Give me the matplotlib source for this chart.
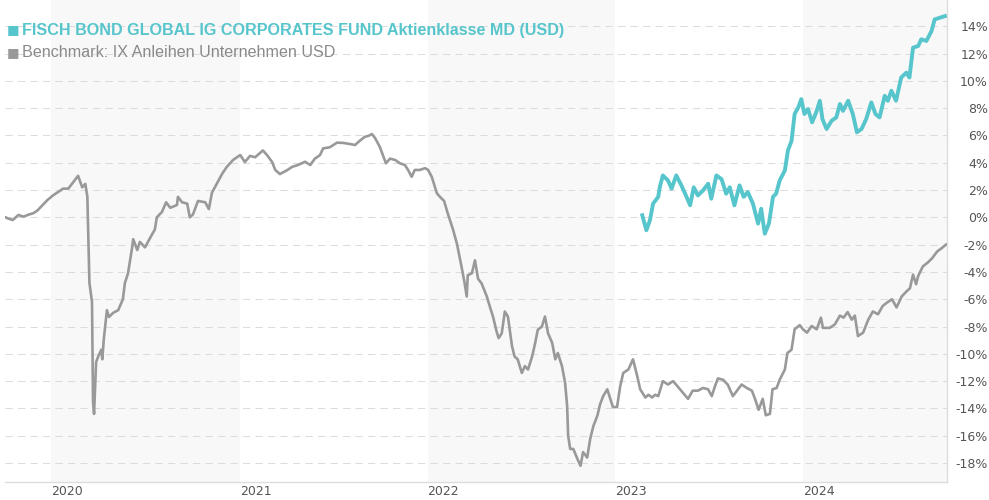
import matplotlib
matplotlib.use('Agg')
import matplotlib.pyplot as plt
import pandas as pd

# benchmark: IX Anleihen Unternehmen USD (cumulative %)
bench_dates = [
    '2019-10-04', '2019-10-08', '2019-10-18', '2019-10-29', '2019-11-08', '2019-11-18', '2019-11-27',
    '2019-12-05', '2019-12-15', '2019-12-24', '2020-01-04', '2020-01-14', '2020-01-24', '2020-02-03',
    '2020-02-12', '2020-02-22', '2020-03-01', '2020-03-07', '2020-03-11', '2020-03-13', '2020-03-15',
    '2020-03-20', '2020-03-22', '2020-03-24', '2020-03-28', '2020-04-01', '2020-04-07', '2020-04-09',
    '2020-04-12', '2020-04-18', '2020-04-22', '2020-04-30', '2020-05-10', '2020-05-19', '2020-05-23',
    '2020-05-29', '2020-06-06', '2020-06-08', '2020-06-16', '2020-06-21', '2020-07-01', '2020-07-11',
    '2020-07-20', '2020-07-24', '2020-08-03', '2020-08-11', '2020-08-19', '2020-09-01', '2020-09-03',
    '2020-09-11', '2020-09-21', '2020-09-26', '2020-10-02', '2020-10-12', '2020-10-26', '2020-11-02',
    '2020-11-08', '2020-11-18', '2020-11-28', '2020-12-07', '2020-12-19', '2021-01-02', '2021-01-11',
    '2021-01-21', '2021-01-31', '2021-02-15', '2021-02-23', '2021-03-05', '2021-03-11', '2021-03-20',
    '2021-04-03', '2021-04-13', '2021-04-24', '2021-05-08', '2021-05-18', '2021-05-27', '2021-06-06',
    '2021-06-12', '2021-06-25', '2021-07-09', '2021-07-21', '2021-08-03', '2021-08-13', '2021-08-22',
    '2021-09-01', '2021-09-07', '2021-09-15', '2021-09-21', '2021-09-30', '2021-10-06', '2021-10-12',
    '2021-10-20', '2021-10-30', '2021-11-08', '2021-11-18', '2021-11-24', '2021-12-01', '2021-12-07',
    '2021-12-17', '2021-12-27', '2022-01-02', '2022-01-09', '2022-01-19', '2022-01-25', '2022-02-02',
    '2022-02-09', '2022-02-19', '2022-02-27', '2022-03-08', '2022-03-14', '2022-03-18', '2022-03-20',
    '2022-03-28', '2022-04-03', '2022-04-09', '2022-04-16', '2022-04-26', '2022-05-02', '2022-05-08',
    '2022-05-15', '2022-05-19', '2022-05-25', '2022-05-31', '2022-06-06', '2022-06-14', '2022-06-19',
    '2022-06-25', '2022-07-03', '2022-07-09', '2022-07-15', '2022-07-23', '2022-07-29', '2022-08-03',
    '2022-08-11', '2022-08-17', '2022-08-23', '2022-08-31', '2022-09-06', '2022-09-11', '2022-09-19',
    '2022-09-25', '2022-09-29', '2022-10-01', '2022-10-05', '2022-10-11', '2022-10-19', '2022-10-25',
    '2022-10-30', '2022-11-07', '2022-11-13', '2022-11-19', '2022-11-27', '2022-12-02', '2022-12-08',
    '2022-12-16', '2022-12-22', '2022-12-27', '2023-01-04', '2023-01-10', '2023-01-16', '2023-01-26',
    '2023-02-04', '2023-02-12', '2023-02-18', '2023-02-28', '2023-03-06', '2023-03-13', '2023-03-19',
    '2023-03-25', '2023-04-03', '2023-04-13', '2023-04-23', '2023-05-02', '2023-05-12', '2023-05-22',
    '2023-05-31', '2023-06-10', '2023-06-20', '2023-06-30', '2023-07-07', '2023-07-13', '2023-07-19',
    '2023-07-29', '2023-08-07', '2023-08-17', '2023-08-27', '2023-09-03', '2023-09-13', '2023-09-23',
    '2023-09-29', '2023-10-06', '2023-10-14', '2023-10-20', '2023-10-28', '2023-11-02', '2023-11-10',
    '2023-11-16', '2023-11-26', '2023-12-01', '2023-12-09', '2023-12-15', '2023-12-25', '2023-12-31',
    '2024-01-08', '2024-01-17', '2024-01-27', '2024-02-04', '2024-02-08', '2024-02-21', '2024-03-02',
    '2024-03-12', '2024-03-19', '2024-03-27', '2024-04-04', '2024-04-10', '2024-04-16', '2024-04-26',
    '2024-05-06', '2024-05-15', '2024-05-25', '2024-06-03', '2024-06-11', '2024-06-21', '2024-06-30',
    '2024-07-10', '2024-07-20', '2024-07-26', '2024-08-01', '2024-08-07', '2024-08-11', '2024-08-20',
    '2024-08-30', '2024-09-07', '2024-09-17', '2024-09-26', '2024-10-04',
]
bench_values = [
    0.0, -0.07, -0.2, 0.17, 0.05, 0.2, 0.3,
    0.5, 0.9, 1.25, 1.6, 1.85, 2.1, 2.1,
    2.55, 3.04, 2.2, 2.45, 1.5, -1.5, -4.8,
    -6.2, -13.5, -14.4, -10.6, -10.2, -9.7, -10.4,
    -8.9, -6.8, -7.3, -7.0, -6.8, -6.0, -4.8,
    -4.1, -2.2, -1.6, -2.4, -1.8, -2.2, -1.5,
    -0.9, 0.0, 0.4, 1.1, 0.7, 0.9, 1.5,
    1.1, 1.0, 0.0, 0.2, 1.2, 1.1, 0.6,
    1.8, 2.5, 3.2, 3.7, 4.2, 4.56, 4.05,
    4.5, 4.4, 4.9, 4.56, 4.05, 3.47, 3.17,
    3.45, 3.7, 3.83, 4.07, 3.83, 4.3, 4.56,
    5.05, 5.13, 5.47, 5.45, 5.37, 5.3, 5.6,
    5.9, 5.95, 6.1, 5.8, 5.17, 4.56, 3.96,
    4.3, 4.2, 3.96, 3.83, 3.47, 2.97, 3.47,
    3.47, 3.6, 3.47, 2.97, 1.76, 1.5, 1.2,
    0.3, -0.85, -1.94, -3.64, -4.85, -5.8, -4.24,
    -4.1, -3.15, -4.5, -4.85, -5.8, -6.55, -7.27,
    -8.36, -8.85, -8.5, -6.9, -7.27, -9.45, -10.2,
    -10.4, -11.4, -10.9, -11.15, -10.2, -9.2, -8.24,
    -8.0, -7.27, -8.5, -9.2, -10.4, -9.94, -10.9,
    -12.1, -13.8, -16.0, -16.97, -16.97, -17.7, -18.2,
    -17.2, -17.6, -16.2, -15.3, -14.5, -13.7, -13.1,
    -12.6, -13.3, -13.9, -13.9, -12.4, -11.4, -11.15,
    -10.4, -11.6, -12.6, -13.2, -13.0, -13.2, -13.0,
    -13.1, -12.0, -12.25, -12.0, -12.4, -12.85, -13.3,
    -12.7, -12.7, -12.5, -12.6, -13.1, -12.4, -11.8,
    -11.9, -12.25, -13.1, -12.6, -12.25, -12.5, -12.7,
    -13.3, -14.1, -13.3, -14.5, -14.4, -12.6, -12.5,
    -11.9, -11.15, -9.94, -9.7, -8.2, -7.9, -8.2,
    -8.45, -7.96, -8.2, -7.35, -8.1, -8.1, -7.85,
    -7.2, -7.35, -6.94, -7.5, -7.2, -8.7, -8.45,
    -7.5, -6.9, -7.1, -6.5, -6.26, -6.0, -6.6,
    -5.8, -5.4, -5.2, -4.2, -4.9, -4.3, -3.6,
    -3.3, -3.0, -2.5, -2.25, -2.0,
]

# fund: FISCH BOND GLOBAL IG CORPORATES FUND Aktienklasse MD (USD)
fund_dates = [
    '2023-02-22', '2023-03-02', '2023-03-09', '2023-03-15', '2023-03-25', '2023-03-28', '2023-04-03',
    '2023-04-13', '2023-04-20', '2023-04-29', '2023-05-09', '2023-05-19', '2023-05-26', '2023-06-02',
    '2023-06-10', '2023-06-20', '2023-06-30', '2023-07-06', '2023-07-16', '2023-07-26', '2023-08-04',
    '2023-08-11', '2023-08-20', '2023-08-30', '2023-09-07', '2023-09-15', '2023-09-25', '2023-10-05',
    '2023-10-11', '2023-10-18', '2023-10-26', '2023-11-03', '2023-11-09', '2023-11-16', '2023-11-26',
    '2023-12-02', '2023-12-09', '2023-12-15', '2023-12-22', '2023-12-28', '2024-01-03', '2024-01-10',
    '2024-01-18', '2024-01-26', '2024-02-02', '2024-02-07', '2024-02-15', '2024-02-25', '2024-03-05',
    '2024-03-12', '2024-03-18', '2024-03-28', '2024-04-06', '2024-04-14', '2024-04-23', '2024-05-02',
    '2024-05-12', '2024-05-20', '2024-05-28', '2024-06-07', '2024-06-13', '2024-06-20', '2024-06-29',
    '2024-07-09', '2024-07-19', '2024-07-25', '2024-08-01', '2024-08-11', '2024-08-17', '2024-08-27',
    '2024-09-06', '2024-09-12', '2024-09-22', '2024-10-02',
]
fund_values = [
    0.15, -0.95, -0.2, 1.0, 1.5, 2.2, 3.07,
    2.7, 2.1, 3.07, 2.34, 1.5, 0.88, 2.2,
    1.6, 1.97, 2.46, 1.36, 3.07, 2.8, 1.73,
    2.2, 0.88, 2.34, 1.5, 1.85, 1.0, -0.46,
    0.63, -1.2, -0.46, 1.5, 1.73, 2.7, 3.43,
    4.9, 5.6, 7.57, 8.05, 8.66, 7.57, 7.93,
    6.96, 7.7, 8.54, 7.2, 6.47, 7.08, 7.32,
    8.3, 7.8, 8.54, 7.57, 6.23, 6.47, 7.2,
    8.42, 7.57, 7.32, 8.9, 8.54, 9.27, 8.54,
    10.24, 10.6, 10.24, 12.43, 12.55, 13.04, 12.92,
    13.65, 14.5, 14.62, 14.74,
]

fund_label = 'FISCH BOND GLOBAL IG CORPORATES FUND Aktienklasse MD (USD)'
bench_label = 'Benchmark: IX Anleihen Unternehmen USD'
shaded_years = [2020, 2022, 2024]
year_ticks = [2020, 2021, 2022, 2023, 2024]
pct_ticks = list(range(-18, 15, 2))

teal = '#57c5cc'
grey = '#999999'

fig = plt.figure(figsize=(9.89, 5.0), dpi=100)
ax = fig.add_axes([5 / 989, 18 / 500, 942 / 989, 482 / 500])

x0 = pd.Timestamp('2019-10-03')
x1 = pd.Timestamp('2024-10-06')
for yr in shaded_years:
    ax.axvspan(pd.Timestamp(f'{yr}-01-01'), min(pd.Timestamp(f'{yr + 1}-01-01'), x1),
               color='#f8f8f8', lw=0, zorder=0)

ax.plot(pd.to_datetime(bench_dates), bench_values, color=grey, lw=1.9, zorder=3)
ax.plot(pd.to_datetime(fund_dates), fund_values, color=teal, lw=2.8, zorder=4)

ax.set_xlim(x0, x1)
ax.set_ylim(-19.39, 15.92)

ax.set_yticks(pct_ticks)
ax.set_yticklabels([f'{v}%' for v in pct_ticks])
ax.yaxis.tick_right()
ax.tick_params(axis='y', length=0, pad=29.5, labelsize=9, labelcolor='#555555')
for lbl in ax.get_yticklabels():
    lbl.set_horizontalalignment('right')

ax.set_xticks([pd.Timestamp(f'{y}-01-01') for y in year_ticks])
ax.set_xticklabels([str(y) for y in year_ticks])
ax.tick_params(axis='x', length=0, pad=2, labelsize=9, labelcolor='#555555')
for lbl in ax.get_xticklabels():
    lbl.set_horizontalalignment('left')

ax.grid(axis='y', color='#dcdcdc', lw=0.75, linestyle=(0, (7, 5)), zorder=1)
ax.set_axisbelow(True)

for s in ['top', 'left']:
    ax.spines[s].set_visible(False)
for s in ['right', 'bottom']:
    ax.spines[s].set_color('#dddddd')
    ax.spines[s].set_linewidth(1)

fam = ['Liberation Sans', 'DejaVu Sans']
fig.text(7 / 989, 1 - 30 / 500, '■', color=teal, fontsize=9.5, va='center', family='DejaVu Sans')
fig.text(22 / 989, 1 - 30 / 500, fund_label, color=teal, fontsize=11.6,
         fontweight='bold', va='center', family=fam)
fig.text(7 / 989, 1 - 52.5 / 500, '■', color=grey, fontsize=9.5, va='center', family='DejaVu Sans')
fig.text(22 / 989, 1 - 52.5 / 500, bench_label, color='#8a8a8a', fontsize=11.6,
         va='center', family=fam)

fig.savefig('out.png', dpi=100)
